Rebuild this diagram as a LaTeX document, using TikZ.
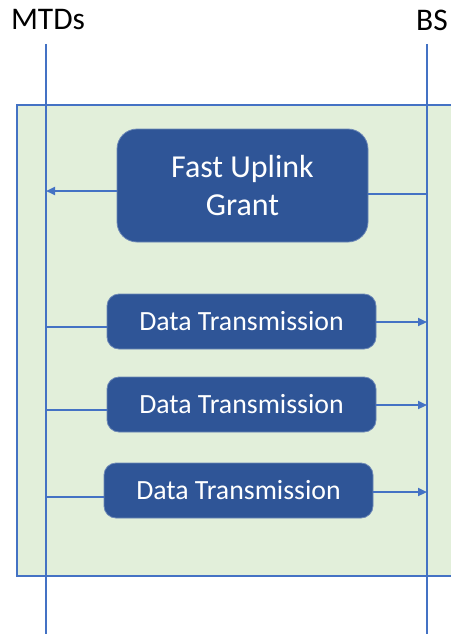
\documentclass[tikz,border=0pt]{standalone}
\usepackage{fontspec}
\setmainfont{Carlito}
\usetikzlibrary{arrows.meta}
\definecolor{lineblue}{HTML}{4472C4}
\definecolor{boxblue}{HTML}{2F5597}
\definecolor{greenbg}{HTML}{E2EFDA}
\tikzset{
  lifeline/.style={draw=lineblue, line width=2.2pt},
  msg/.style={draw=lineblue, line width=2.2pt, -{Triangle[length=9pt,width=8pt]}},
  plainmsg/.style={draw=lineblue, line width=2.2pt},
  stepbox/.style={fill=boxblue, draw=boxblue!70!white, line width=0.8pt, rounded corners=12pt,
    text=white, align=center, inner sep=0pt, font=\fontsize{27.8}{32}\selectfont},
  header/.style={font=\fontsize{31.5}{36}\selectfont, inner sep=0pt}
}
\begin{document}
\begin{tikzpicture}[x=1pt,y=-1pt]
\useasboundingbox (0,0) rectangle (450,634);
% green frame
\draw[fill=greenbg, draw=lineblue, line width=1.5pt] (17,105) rectangle (460,576);
% headers
\node[header] (mtds) at (48,20) {MTDs};
\node[header] (bs) at (432,20) {BS};
% lifelines
\coordinate (mtop) at (46,44);
\coordinate (mbot) at (46,640);
\coordinate (btop) at (427,44);
\coordinate (bbot) at (427,640);
\draw[lifeline] (mtop) -- (mbot);
\draw[lifeline] (btop) -- (bbot);
% boxes
\node[stepbox, minimum width=251pt, minimum height=113pt, rounded corners=20pt,
  font=\fontsize{32}{38}\selectfont] (grant) at (242.5,185.5) {Fast Uplink\\Grant};
\node[stepbox, minimum width=269pt, minimum height=55pt] (dt1) at (241.5,321.5) {Data Transmission};
\node[stepbox, minimum width=269pt, minimum height=55pt] (dt2) at (241.5,404.5) {Data Transmission};
\node[stepbox, minimum width=269pt, minimum height=55pt] (dt3) at (238.5,490.5) {Data Transmission};
% connector points on lifelines
\coordinate (bg) at (427,194);
\coordinate (mg) at (46,191);
\coordinate (m1) at (46,327);
\coordinate (b1) at (427,322);
\coordinate (m2) at (46,410);
\coordinate (b2) at (427,405);
\coordinate (m3) at (46,497);
\coordinate (b3) at (427,492);
% connectors
\draw[plainmsg] (bg) -- (bg -| grant.east);
\draw[msg] (grant.west |- mg) -- (mg);
\draw[plainmsg] (m1) -- (m1 -| dt1.west);
\draw[msg] (dt1.east |- b1) -- (b1);
\draw[plainmsg] (m2) -- (m2 -| dt2.west);
\draw[msg] (dt2.east |- b2) -- (b2);
\draw[plainmsg] (m3) -- (m3 -| dt3.west);
\draw[msg] (dt3.east |- b3) -- (b3);
\end{tikzpicture}
\end{document}
